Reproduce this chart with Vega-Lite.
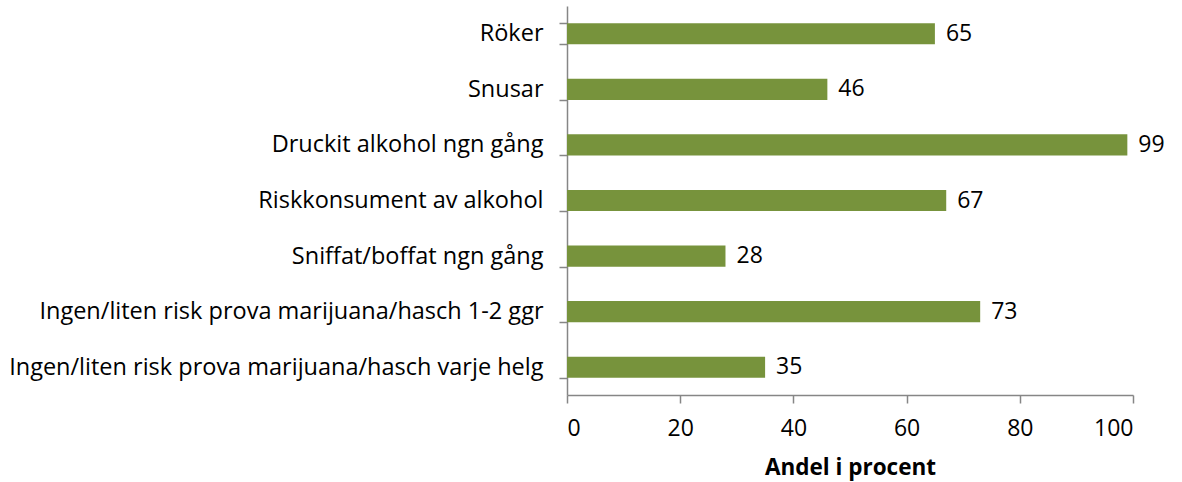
{
  "$schema": "https://vega.github.io/schema/vega-lite/v6.json",
  "width": 566,
  "height": 389,
  "autosize": {"type": "none"},
  "padding": {"left": 567, "top": 6, "right": 49, "bottom": 87},
  "background": "white",
  "config": {"view": {"stroke": null}, "font": "Open Sans"},
  "data": {"values": [
    {"kategori": "Röker", "andel": 65},
    {"kategori": "Snusar", "andel": 46},
    {"kategori": "Druckit alkohol ngn gång", "andel": 99},
    {"kategori": "Riskkonsument av alkohol", "andel": 67},
    {"kategori": "Sniffat/boffat ngn gång", "andel": 28},
    {"kategori": "Ingen/liten risk prova marijuana/hasch 1-2 ggr", "andel": 73},
    {"kategori": "Ingen/liten risk prova marijuana/hasch varje helg", "andel": 35}
  ]},
  "encoding": {
    "y": {"field": "kategori", "type": "nominal", "sort": null,
      "scale": {"paddingInner": 0.62, "paddingOuter": 0.31},
      "axis": {"title": null, "tickBand": "extent", "domainColor": "#868686", "tickColor": "#868686", "tickSize": 8, "labelPadding": 16, "labelFontSize": 23.5, "labelColor": "#000000", "labelFont": "Open Sans", "labelLimit": 600, "domainWidth": 1.5, "tickWidth": 1.5}},
    "x": {"field": "andel", "type": "quantitative",
      "scale": {"domain": [0, 100]},
      "axis": {"title": "Andel i procent", "values": [0, 20, 40, 60, 80, 100], "grid": false, "domainColor": "#868686", "tickColor": "#868686", "tickSize": 8, "labelPadding": 14, "labelFontSize": 23, "labelColor": "#000000", "labelFont": "Open Sans", "titleFontSize": 22.5, "titleFont": "Open Sans", "titleFontWeight": "bold", "titleColor": "#000000", "titlePadding": 16, "domainWidth": 1.5, "tickWidth": 1.5}}
  },
  "layer": [
    {"mark": {"type": "bar", "color": "#77933C"}},
    {"mark": {"type": "text", "align": "left", "baseline": "middle", "dx": 11, "fontSize": 23, "font": "Open Sans", "color": "#000000"},
     "encoding": {"text": {"field": "andel", "type": "quantitative"}}}
  ]
}
